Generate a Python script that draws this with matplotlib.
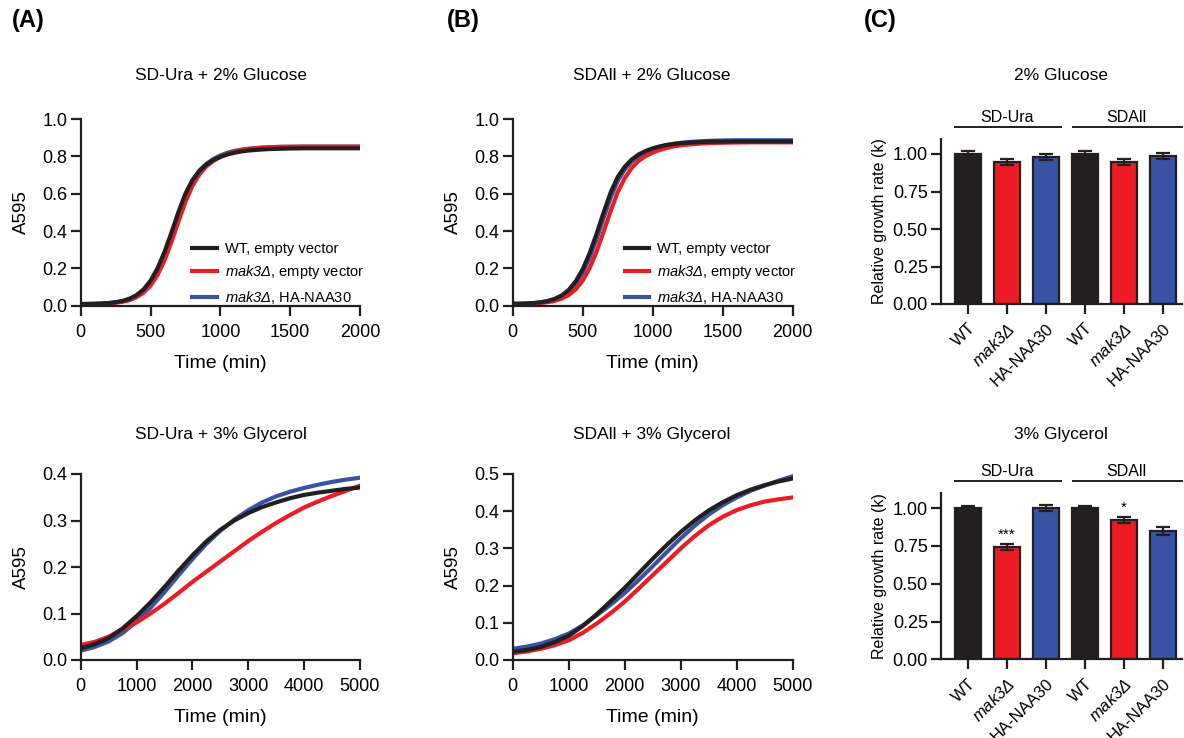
import matplotlib
matplotlib.use('Agg')
import matplotlib.pyplot as plt
import matplotlib.transforms as mtransforms

plt.rcParams['font.family'] = 'Liberation Sans'
## mathtext is only used for the italic gene names, so make it all italic
plt.rcParams['mathtext.fontset'] = 'custom'
plt.rcParams['mathtext.rm'] = 'Liberation Sans:italic'
plt.rcParams['mathtext.it'] = 'Liberation Sans:italic'

BLACK = '#231f20'
RED = '#ed1c24'
BLUE = '#3953a4'

## growth curves, glucose (min, A595)
time_glu = [0, 50, 100, 150, 200, 250, 300, 350, 400, 450, 500, 550, 600, 650, 700, 750,
            800, 850, 900, 950, 1000, 1050, 1100, 1150, 1200, 1250, 1300, 1350, 1400, 1450,
            1500, 1600, 1700, 1800, 1900, 2000]
ura_glu_wt = [.009, .0093, .0102, .0117, .0143, .0186, .0257, .0375, .0568, .087, .134, .200,
              .288, .392, .502, .600, .672, .722, .756, .780, .797, .810, .819, .826, .831,
              .834, .837, .839, .840, .841, .842, .843, .843, .843, .843, .843]
ura_glu_mak3 = [.008, .009, .0095, .0105, .0125, .016, .021, .030, .046, .070, .108, .165,
                .243, .342, .452, .556, .642, .704, .746, .776, .797, .813, .825, .833, .839,
                .843, .846, .848, .850, .851, .851, .852, .852, .852, .852, .852]
ura_glu_naa30 = [.009, .0093, .010, .0113, .0137, .0177, .0243, .0354, .0535, .082, .126, .190,
                 .276, .380, .492, .594, .670, .724, .760, .786, .805, .819, .829, .836, .841,
                 .844, .847, .849, .850, .851, .851, .852, .852, .852, .852, .852]
all_glu_wt = [.010, .0105, .012, .0144, .0185, .025, .0366, .055, .0845, .130, .195, .282,
              .387, .501, .607, .689, .744, .783, .810, .829, .843, .853, .861, .866, .871,
              .873, .875, .877, .878, .879, .879, .880, .880, .880, .880, .880]
all_glu_mak3 = [.009, .0095, .0105, .012, .0145, .019, .026, .038, .057, .088, .135, .202,
                .292, .398, .508, .608, .683, .738, .776, .802, .820, .834, .845, .853, .859,
                .863, .866, .869, .871, .872, .873, .874, .875, .875, .875, .875]
all_glu_naa30 = [.010, .0103, .0115, .0137, .0175, .0235, .034, .050, .076, .117, .177, .258,
                 .360, .472, .580, .668, .729, .772, .802, .823, .839, .851, .860, .867, .872,
                 .876, .879, .881, .883, .884, .885, .886, .886, .886, .886, .886]

## growth curves, glycerol
time_gly = [0, 250, 500, 750, 1000, 1250, 1500, 1750, 2000, 2250, 2500, 2750, 3000, 3250,
            3500, 3750, 4000, 4250, 4500, 4750, 5000]
ura_gly_wt = [.025, .034, .047, .068, .094, .124, .157, .192, .225, .255, .280, .300, .316,
              .329, .339, .348, .355, .360, .364, .368, .371]
ura_gly_mak3 = [.032, .039, .050, .066, .081, .100, .121, .144, .168, .190, .212, .234, .256,
                .276, .295, .312, .328, .341, .353, .364, .375]
ura_gly_naa30 = [.020, .028, .040, .058, .083, .112, .146, .182, .217, .250, .278, .302, .322,
                 .339, .352, .362, .370, .377, .383, .388, .392]
all_gly_wt = [.022, .027, .035, .048, .065, .091, .123, .158, .194, .233, .272, .309, .344,
              .375, .402, .424, .443, .458, .470, .480, .488]
all_gly_mak3 = [.018, .023, .030, .040, .053, .073, .098, .126, .157, .192, .228, .264, .300,
                .333, .362, .385, .403, .416, .426, .432, .437]
all_gly_naa30 = [.030, .036, .044, .056, .071, .093, .120, .149, .180, .215, .252, .290, .327,
                 .361, .391, .416, .437, .455, .469, .482, .494]

## relative growth rates
bar_labels = ['WT', r'$mak3Δ$', 'HA-NAA30', 'WT', r'$mak3Δ$', 'HA-NAA30']
bar_colors = [BLACK, RED, BLUE, BLACK, RED, BLUE]
glu_k = [1.00, 0.95, 0.98, 1.00, 0.95, 0.99]
glu_err = [0.02, 0.02, 0.02, 0.02, 0.02, 0.02]
gly_k = [1.00, 0.74, 1.00, 1.00, 0.92, 0.85]
gly_err = [0.015, 0.02, 0.02, 0.012, 0.02, 0.025]
gly_sig = ['', '***', '', '', '*', '']
groups = ['SD-Ura', 'SDAll']

W, H = 1184, 738
fig = plt.figure(figsize=(W / 100, H / 100), dpi=100)


def px_axes(x0, x1, y0, y1):
    ## pixel box (top-left origin) -> figure axes
    return fig.add_axes([x0 / W, 1 - y1 / H, (x1 - x0) / W, (y1 - y0) / H])


def style(ax):
    for s in ['top', 'right']:
        ax.spines[s].set_visible(False)
    for s in ['left', 'bottom']:
        ax.spines[s].set_linewidth(1.6)
        ax.spines[s].set_color(BLACK)
    ax.tick_params(width=1.6, length=7, color=BLACK, labelsize=13)
    ax.tick_params(axis='y', pad=2.5)
    ax.tick_params(axis='x', pad=6)


def curve_panel(ax, t, wt, mak3, naa30, tmax, ymax, legend=False):
    style(ax)
    lb, = ax.plot(t, naa30, color=BLUE, lw=3)
    lr, = ax.plot(t, mak3, color=RED, lw=3)
    lk, = ax.plot(t, wt, color=BLACK, lw=3)
    ax.set_xlim(0, tmax)
    ax.set_ylim(0, ymax)
    ax.set_xlabel('Time (min)', fontsize=14, labelpad=10)
    ax.set_ylabel('A595', fontsize=13.5, labelpad=9)
    if legend:
        ax.legend([lk, lr, lb],
                  ['WT, empty vector', r'$mak3Δ$, empty vector', r'$mak3Δ$, HA-NAA30'],
                  loc='lower left', bbox_to_anchor=(0.4, 0.0), frameon=False,
                  fontsize=10.5, handlelength=1.7, handletextpad=0.5,
                  labelspacing=0.5, borderpad=0, borderaxespad=0)


def bar_panel(ax, k, err, sig=None):
    style(ax)
    x = range(len(k))
    ax.bar(x, k, width=0.66, color=bar_colors, edgecolor=BLACK, linewidth=1.6, zorder=2)
    ax.errorbar(x, k, yerr=err, fmt='none', ecolor=BLACK, elinewidth=1.6,
                capsize=5, capthick=1.6, zorder=3)
    if sig:
        for i in x:
            if sig[i]:
                ax.text(i, k[i] + err[i] + 0.015, sig[i], ha='center', va='bottom',
                        fontsize=11)
    ax.set_xlim(-0.69, 5.49)
    ax.set_ylim(0, 1.1)
    ax.set_yticks([0, 0.25, 0.5, 0.75, 1.0])
    ax.set_yticklabels(['%.2f' % v for v in [0, 0.25, 0.5, 0.75, 1.0]])
    ax.set_xticks(list(x))
    ax.set_xticklabels(bar_labels, rotation=45, ha='right', rotation_mode='anchor',
                       fontsize=12)
    ax.tick_params(axis='x', pad=5)
    ax.set_ylabel('Relative growth rate (k)', fontsize=11.5, labelpad=4)
    tr = mtransforms.blended_transform_factory(ax.transData, ax.transAxes)
    for (a, b), c, g in zip([(-0.34, 2.38), (2.69, 5.49)], [1.0, 4.07], groups):
        ax.plot([a, b], [1.072, 1.072], color=BLACK, lw=1.4, transform=tr, clip_on=False)
        ax.text(c, 1.085, g, transform=tr, ha='center', va='bottom', fontsize=11.5)


axA1 = px_axes(80.7, 360, 119, 305.7)
axB1 = px_axes(512.7, 792.7, 119, 305.7)
axC1 = px_axes(941, 1182, 139, 304)
axA2 = px_axes(80.7, 360, 474, 660)
axB2 = px_axes(512.7, 792.7, 474, 660)
axC2 = px_axes(941, 1182, 493, 659.3)

curve_panel(axA1, time_glu, ura_glu_wt, ura_glu_mak3, ura_glu_naa30, 2000, 1.0, legend=True)
curve_panel(axB1, time_glu, all_glu_wt, all_glu_mak3, all_glu_naa30, 2000, 1.0, legend=True)
curve_panel(axA2, time_gly, ura_gly_wt, ura_gly_mak3, ura_gly_naa30, 5000, 0.4)
curve_panel(axB2, time_gly, all_gly_wt, all_gly_mak3, all_gly_naa30, 5000, 0.5)
for ax in [axA1, axB1]:
    ax.set_yticks([0, 0.2, 0.4, 0.6, 0.8, 1.0])
    ax.set_xticks([0, 500, 1000, 1500, 2000])
for ax in [axA2, axB2]:
    ax.set_yticks([v / 10 for v in range(int(ax.get_ylim()[1] * 10) + 1)])
    ax.set_xticks([0, 1000, 2000, 3000, 4000, 5000])
for ax in [axA1, axB1, axA2, axB2]:
    ax.set_yticklabels(['%.1f' % v for v in ax.get_yticks()])

bar_panel(axC1, glu_k, glu_err)
bar_panel(axC2, gly_k, gly_err, gly_sig)

## titles and panel letters, placed in pixels
def ftext(x, y, s, **kw):
    fig.text(x / W, 1 - y / H, s, ha='center', va='center', **kw)

ftext(221, 76, 'SD-Ura + 2% Glucose', fontsize=12.5)
ftext(652, 76, 'SDAll + 2% Glucose', fontsize=12.5)
ftext(1061, 76, '2% Glucose', fontsize=12.5)
ftext(221, 434, 'SD-Ura + 3% Glycerol', fontsize=12.5)
ftext(652, 434, 'SDAll + 3% Glycerol', fontsize=12.5)
ftext(1061, 434, '3% Glycerol', fontsize=12.5)
ftext(28, 21, '(A)', fontsize=17, fontweight='bold')
ftext(463, 21, '(B)', fontsize=17, fontweight='bold')
ftext(880, 21, '(C)', fontsize=17, fontweight='bold')

fig.savefig('out.png', dpi=100)
